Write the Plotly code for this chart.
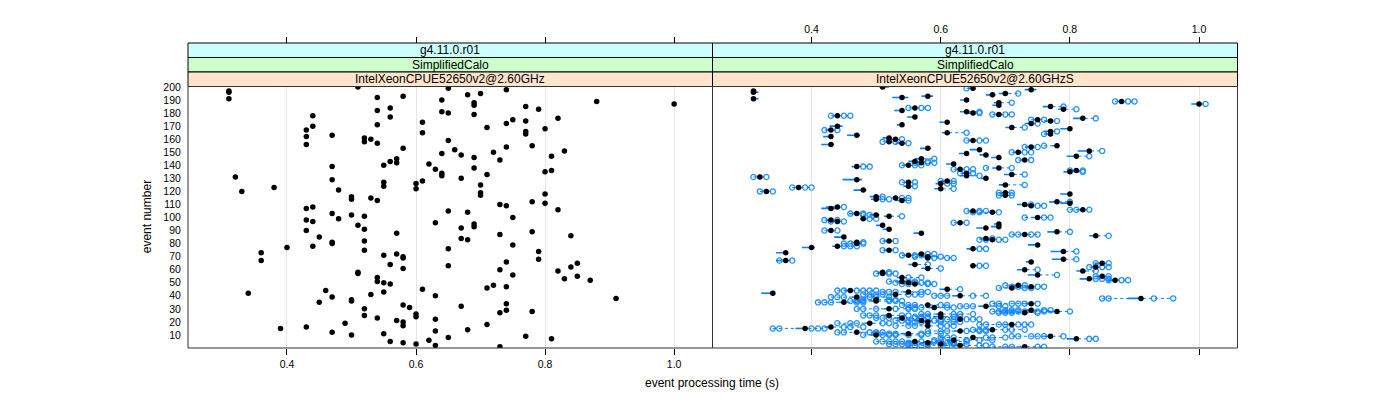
import plotly.graph_objects as go

# ---------------- data ----------------
event = list(range(1, 201))

# single-run processing time per event (left panel)
t_single = [
    0.73, 0.63, 0.60, 0.58, 0.56, 0.62, 0.81, 0.65, 0.77, 0.50,
    0.55, 0.47, 0.63, 0.68, 0.39, 0.43, 0.58, 0.71, 0.49, 0.58,
    0.57, 0.63, 0.54, 0.60, 0.52, 0.60, 0.73, 0.78, 0.74, 0.52,
    0.59, 0.67, 0.58, 0.74, 0.45, 0.50, 0.50, 0.91, 0.47, 0.63,
    0.53, 0.34, 0.55, 0.46, 0.61, 0.71, 0.74, 0.72, 0.56, 0.55,
    0.54, 0.87, 0.83, 0.54, 0.85, 0.75, 0.51, 0.51, 0.82, 0.73,
    0.58, 0.84, 0.65, 0.56, 0.85, 0.74, 0.36, 0.79, 0.58, 0.58,
    0.55, 0.57, 0.36, 0.79, 0.52, 0.65, 0.40, 0.44, 0.75, 0.47,
    0.47, 0.52, 0.68, 0.67, 0.45, 0.84, 0.73, 0.57, 0.78, 0.43,
    0.52, 0.67, 0.69, 0.51, 0.69, 0.63, 0.44, 0.43, 0.48, 0.75,
    0.52, 0.50, 0.47, 0.68, 0.65, 0.82, 0.43, 0.44, 0.74, 0.73,
    0.80, 0.78, 0.54, 0.50, 0.53, 0.50, 0.70, 0.80, 0.70, 0.33,
    0.48, 0.60, 0.38, 0.55, 0.70, 0.60, 0.55, 0.61, 0.47, 0.67,
    0.32, 0.64, 0.71, 0.64, 0.80, 0.81, 0.63, 0.69, 0.47, 0.55,
    0.62, 0.57, 0.56, 0.73, 0.57, 0.69, 0.81, 0.67, 0.64, 0.72,
    0.83, 0.66, 0.58, 0.74, 0.78, 0.43, 0.54, 0.52, 0.65, 0.53,
    0.52, 0.43, 0.47, 0.77, 0.61, 0.77, 0.43, 0.80, 0.71, 0.44,
    0.54, 0.74, 0.61, 0.77, 0.75, 0.82, 0.56, 0.44, 0.69, 0.65,
    0.64, 0.54, 0.79, 0.56, 0.77, 0.69, 1.00, 0.69, 0.88, 0.64,
    0.31, 0.54, 0.58, 0.68, 0.70, 0.31, 0.31, 0.74, 0.65, 0.51,
]

# summary (black dot) of repeated runs per event (right panel)
t_summary = list(t_single)

# individual repeated-run times per event (right panel, open circles)
rep_times = [
    [0.68, 0.70, 0.71, 0.75, 0.76],
    [0.55, 0.56, 0.57, 0.58, 0.60, 0.61, 0.66, 0.67],
    [0.52, 0.53, 0.54, 0.55, 0.58, 0.62, 0.64],
    [0.55, 0.56, 0.60, 0.61, 0.62],
    [0.50, 0.51, 0.52, 0.53, 0.54, 0.57, 0.59, 0.62, 0.64],
    [0.59, 0.60, 0.64, 0.66, 0.68],
    [0.83, 0.84],
    [0.60, 0.61, 0.62, 0.67, 0.68, 0.70],
    [0.71, 0.72, 0.74, 0.75, 0.76, 0.79],
    [0.48, 0.51, 0.52, 0.53, 0.55, 0.57],
    [0.50, 0.52, 0.53, 0.57, 0.58, 0.60],
    [0.44, 0.45, 0.49, 0.50, 0.51],
    [0.58, 0.60, 0.61, 0.64, 0.66, 0.67],
    [0.65, 0.66, 0.67, 0.70, 0.71, 0.73],
    [0.34, 0.35, 0.40, 0.41, 0.42],
    [0.45, 0.46, 0.48],
    [0.53, 0.55, 0.56, 0.60, 0.61, 0.62],
    [0.66, 0.67, 0.69, 0.70, 0.72, 0.73, 0.74],
    [0.44, 0.46, 0.47, 0.51, 0.52],
    [0.55, 0.56, 0.57, 0.60, 0.62, 0.63],
    [0.53, 0.54, 0.55, 0.59, 0.60],
    [0.60, 0.61, 0.62, 0.64, 0.65, 0.66],
    [0.50, 0.51, 0.52, 0.56, 0.57, 0.58],
    [0.56, 0.57, 0.58, 0.62, 0.63],
    [0.48, 0.49, 0.50, 0.54, 0.55],
    [0.57, 0.58, 0.62, 0.63, 0.65],
    [0.69, 0.70, 0.71, 0.75],
    [0.68, 0.69, 0.70, 0.71, 0.72, 0.73, 0.75, 0.76, 0.80],
    [0.70, 0.71, 0.72, 0.76, 0.77],
    [0.47, 0.48, 0.50, 0.53, 0.55, 0.56],
    [0.55, 0.56, 0.57, 0.61, 0.62],
    [0.63, 0.64, 0.65, 0.69, 0.70],
    [0.54, 0.55, 0.56, 0.60, 0.61],
    [0.68, 0.69, 0.71, 0.72, 0.73, 0.75],
    [0.41, 0.42, 0.43, 0.47, 0.48],
    [0.46, 0.47, 0.48, 0.52, 0.53, 0.54],
    [0.47, 0.48, 0.52, 0.53],
    [0.85, 0.86, 0.93, 0.96],
    [0.43, 0.44, 0.45, 0.49, 0.50, 0.52],
    [0.59, 0.60, 0.61, 0.65, 0.67],
    [0.48, 0.49, 0.50, 0.51, 0.55, 0.56, 0.57],
    [],
    [0.51, 0.52, 0.53, 0.57, 0.58],
    [0.44, 0.45, 0.47, 0.48, 0.49, 0.50],
    [0.63],
    [0.69, 0.73, 0.74],
    [0.71, 0.72, 0.75, 0.76],
    [0.70, 0.73],
    [0.54, 0.55, 0.58, 0.59],
    [0.53, 0.56, 0.57, 0.58],
    [0.52, 0.55, 0.56],
    [0.86, 0.88, 0.89],
    [0.84, 0.85, 0.86],
    [0.55, 0.57],
    [0.84, 0.86],
    [0.78],
    [0.50, 0.52, 0.53],
    [0.52],
    [0.84],
    [0.75],
    [0.60],
    [0.83, 0.85, 0.86],
    [0.66, 0.67],
    [0.58],
    [0.84, 0.86],
    [],
    [0.35, 0.37],
    [0.81],
    [0.59, 0.61, 0.62],
    [0.56, 0.60],
    [0.54, 0.56, 0.57],
    [0.58, 0.59],
    [],
    [0.81],
    [0.51, 0.53],
    [0.66, 0.67],
    [],
    [0.45, 0.46, 0.47],
    [],
    [0.45, 0.46, 0.48],
    [0.48],
    [0.51, 0.53],
    [0.66, 0.67, 0.69, 0.70],
    [0.68],
    [],
    [0.86],
    [0.71, 0.72, 0.74, 0.75],
    [],
    [0.80],
    [0.42, 0.44],
    [],
    [],
    [],
    [],
    [],
    [0.62, 0.64],
    [0.43, 0.45],
    [0.42, 0.44],
    [0.49, 0.50],
    [0.73, 0.76, 0.77],
    [0.54],
    [0.48, 0.49],
    [0.46, 0.48],
    [0.65, 0.66, 0.69],
    [0.64, 0.66, 0.67],
    [0.80, 0.81, 0.83],
    [],
    [0.45],
    [0.75, 0.76],
    [0.74],
    [],
    [0.80],
    [0.55],
    [0.51, 0.52],
    [0.54, 0.55],
    [0.51],
    [0.69, 0.71],
    [],
    [0.69, 0.71],
    [0.32, 0.34],
    [],
    [0.62],
    [0.37, 0.39, 0.40],
    [0.56],
    [0.73],
    [0.61, 0.62],
    [0.54, 0.56],
    [0.60, 0.62],
    [],
    [],
    [0.31, 0.33],
    [0.66],
    [0.73],
    [0.63, 0.65],
    [0.82],
    [0.80, 0.82],
    [0.62, 0.64, 0.65],
    [0.67, 0.71],
    [0.48, 0.49],
    [0.54, 0.56, 0.57],
    [],
    [0.56, 0.58, 0.59],
    [0.58],
    [0.72, 0.74],
    [0.59],
    [],
    [0.83],
    [],
    [],
    [0.71, 0.73, 0.74],
    [0.85],
    [],
    [],
    [0.73, 0.75],
    [0.76],
    [],
    [0.55],
    [0.51, 0.53],
    [0.64, 0.66, 0.67],
    [0.52, 0.54],
    [],
    [],
    [],
    [0.76],
    [0.64],
    [0.78],
    [0.42, 0.44],
    [],
    [0.73],
    [],
    [],
    [0.75],
    [],
    [0.78],
    [0.74, 0.76],
    [0.84],
    [],
    [0.43, 0.45, 0.46],
    [0.68, 0.70, 0.71],
    [0.66],
    [0.66],
    [],
    [0.81],
    [0.55, 0.57, 0.58],
    [0.79],
    [],
    [1.01],
    [0.71],
    [0.87, 0.89, 0.90],
    [],
    [],
    [],
    [],
    [],
    [0.72],
    [],
    [],
    [],
    [0.64],
    [],
]

# spread of repeated runs around the summary (ms), below / above
spread_lo_ms = [
    8, 10, 5, 12, 8, 10, 15, 5, 10, 8, 12, 5, 10, 8, 15, 10, 5, 12, 8, 10,
    10, 5, 8, 12, 10, 8, 5, 15, 10, 8, 10, 12, 5, 10, 8, 10, 5, 20, 8, 12,
    10, 18, 8, 10, 12, 5, 10, 8, 10, 5, 8, 12, 15, 8, 10, 15, 5, 8, 10, 12,
    10, 8, 5, 10, 12, 8, 15, 18, 5, 8, 10, 5, 15, 20, 8, 10, 15, 8, 15, 5,
    8, 10, 12, 10, 15, 10, 8, 12, 15, 8, 10, 15, 12, 10, 8, 5, 10, 8, 5, 10,
    8, 10, 12, 5, 8, 10, 15, 18, 10, 12, 15, 12, 10, 8, 5, 10, 8, 15, 8, 5,
    15, 10, 5, 8, 10, 8, 5, 10, 22, 8, 5, 10, 12, 8, 10, 8, 5, 10, 8, 10,
    12, 5, 10, 8, 10, 12, 15, 10, 12, 8, 18, 15, 12, 10, 8, 15, 10, 5, 8, 10,
    10, 12, 15, 10, 8, 10, 8, 15, 10, 12, 8, 10, 12, 10, 8, 15, 12, 8, 5, 10,
    10, 12, 8, 5, 12, 10, 12, 8, 5, 10, 3, 15, 10, 10, 10, 3, 3, 10, 8, 5,
]
spread_hi_ms = [
    3, 3, 5, 3, 3, 5, 3, 3, 3, 5, 3, 3, 3, 3, 5, 3, 3, 3, 5, 3,
    3, 3, 3, 5, 3, 3, 3, 3, 5, 3, 3, 3, 3, 3, 5, 3, 3, 3, 3, 3,
    5, 3, 3, 3, 3, 3, 3, 3, 5, 3, 3, 3, 3, 3, 3, 3, 3, 3, 5, 3,
    3, 3, 3, 5, 3, 3, 3, 3, 3, 3, 5, 3, 3, 3, 3, 3, 5, 3, 3, 3,
    3, 3, 3, 3, 3, 3, 5, 3, 3, 3, 3, 3, 3, 3, 3, 3, 3, 3, 3, 3,
    3, 5, 3, 3, 3, 3, 8, 3, 3, 3, 3, 3, 3, 3, 3, 3, 3, 3, 3, 3,
    5, 3, 3, 3, 3, 3, 3, 3, 8, 3, 3, 3, 3, 3, 3, 3, 3, 3, 3, 3,
    3, 3, 3, 3, 3, 3, 3, 3, 3, 3, 3, 3, 5, 3, 3, 5, 3, 3, 3, 3,
    3, 3, 5, 3, 3, 3, 3, 3, 3, 8, 3, 3, 3, 3, 3, 3, 3, 3, 3, 3,
    3, 3, 3, 3, 3, 3, 3, 3, 3, 3, 8, 10, 8, 5, 5, 8, 5, 8, 3, 10,
]

strip_levels = ["g4.11.0.r01", "SimplifiedCalo"]
panel_hosts = ["IntelXeonCPUE52650v2@2.60GHz", "IntelXeonCPUE52650v2@2.60GHzS"]
x_ticks = [0.4, 0.6, 0.8, 1.0]
x_tick_text = ["0.4", "0.6", "0.8", "1.0"]
y_ticks = list(range(10, 201, 10))

# ---------------- layout geometry ----------------
W, H = 1400, 400
def px(x):
    return x / W
def py(y):
    return 1 - y / H

L0, L1, R1 = 188, 712.5, 1237.5
TOP, BOT = 86.5, 348
S1, S2, S3 = 72, 57.5, 43
XR = [0.2466, 1.0595]
YR = [0, 200.4]

BLUE = "#0080ff"
FONT = "Liberation Sans, Arial, sans-serif"

fig = go.Figure()

# left panel: single run
fig.add_trace(go.Scatter(
    x=t_single, y=event, mode="markers", xaxis="x", yaxis="y",
    marker=dict(color="black", size=5.5), showlegend=False, hoverinfo="skip"))

# right panel: spread lines
solid_x, solid_y, dot_x, dot_y = [], [], [], []
circ_x, circ_y = [], []
for e, m, reps, lo_ms, hi_ms in zip(event, t_summary, rep_times, spread_lo_ms, spread_hi_ms):
    lo = m - lo_ms / 1000.0
    hi = m + hi_ms / 1000.0
    solid_x += [lo, hi, None]
    solid_y += [e, e, None]
    allv = reps + [lo, hi]
    mn, mx = min(allv), max(allv)
    if mn < lo:
        dot_x += [mn, lo, None]
        dot_y += [e, e, None]
    if mx > hi:
        dot_x += [hi, mx, None]
        dot_y += [e, e, None]
    for r in reps:
        circ_x.append(r)
        circ_y.append(e)

fig.add_trace(go.Scatter(
    x=dot_x, y=dot_y, mode="lines", xaxis="x2", yaxis="y2",
    line=dict(color=BLUE, width=1, dash="dot"), showlegend=False, hoverinfo="skip"))
fig.add_trace(go.Scatter(
    x=solid_x, y=solid_y, mode="lines", xaxis="x2", yaxis="y2",
    line=dict(color=BLUE, width=1.6), showlegend=False, hoverinfo="skip"))
fig.add_trace(go.Scatter(
    x=circ_x, y=circ_y, mode="markers", xaxis="x2", yaxis="y2",
    marker=dict(symbol="circle-open", color=BLUE, size=5.2, line=dict(width=1.3, color=BLUE)),
    opacity=0.85, showlegend=False, hoverinfo="skip"))
fig.add_trace(go.Scatter(
    x=t_summary, y=event, mode="markers", xaxis="x2", yaxis="y2",
    marker=dict(color="black", size=5.5), showlegend=False, hoverinfo="skip"))

# empty traces so the top tick axes get drawn
fig.add_trace(go.Scatter(x=[], y=[], xaxis="x3", yaxis="y3", showlegend=False, hoverinfo="skip"))
fig.add_trace(go.Scatter(x=[], y=[], xaxis="x4", yaxis="y4", showlegend=False, hoverinfo="skip"))

tickfont = dict(family=FONT, size=10.5, color="black")
common_x = dict(range=XR, tickvals=x_ticks, ticktext=x_tick_text, automargin=False,
                ticks="outside", ticklen=6, tickcolor="black", tickwidth=1,
                showline=False, zeroline=False, tickfont=tickfont, fixedrange=True)
hidden_y = dict(domain=[py(BOT), py(TOP)], range=YR, visible=False, fixedrange=True,
                automargin=False)

fig.update_layout(
    template="none",
    width=W, height=H, margin=dict(l=0, r=0, t=0, b=0, pad=0, autoexpand=False),
    paper_bgcolor="white", plot_bgcolor="rgba(0,0,0,0)",
    xaxis=dict(domain=[px(L0), px(L1)], anchor="y", showgrid=True, gridcolor="#e6e6e6",
               gridwidth=1, **common_x),
    xaxis2=dict(domain=[px(L1), px(R1)], anchor="y2", showgrid=True, gridcolor="#e6e6e6",
                gridwidth=1, showticklabels=False, **common_x),
    xaxis3=dict(domain=[px(L1), px(R1)], anchor="free", position=py(S3), side="top",
                showgrid=False, **common_x),
    xaxis4=dict(domain=[px(L0), px(L1)], anchor="free", position=py(S3), side="top",
                showgrid=False, showticklabels=False, **common_x),
    yaxis=dict(domain=[py(BOT), py(TOP)], anchor="x", range=YR, tickvals=y_ticks,
               ticks="outside", ticklen=4, tickcolor="rgba(0,0,0,0)", automargin=False,
               showgrid=False, zeroline=False, showline=False, tickfont=tickfont,
               fixedrange=True),
    yaxis2=dict(domain=[py(BOT), py(TOP)], anchor="x2", range=YR, tickvals=y_ticks,
                showticklabels=False, ticks="", showgrid=False, zeroline=False,
                showline=False, fixedrange=True, automargin=False),
    yaxis3=dict(anchor="x3", **hidden_y),
    yaxis4=dict(anchor="x4", **hidden_y),
)

shapes = []
# panel frames
for a, b in [(L0, L1), (L1, R1)]:
    shapes.append(dict(type="rect", xref="paper", yref="paper",
                       x0=px(a), x1=px(b), y0=py(BOT), y1=py(TOP),
                       line=dict(color="#333333", width=1), fillcolor="rgba(0,0,0,0)", layer="above"))
# strips
strip_cols = [("#ccffff", S3, S2), ("#ccffcc", S2, S1), ("#ffe5cc", S1, TOP)]
annotations = []
for pi, (a, b) in enumerate([(L0, L1), (L1, R1)]):
    labels = strip_levels + [panel_hosts[pi]]
    for (col, ya, yb), lab in zip(strip_cols, labels):
        shapes.append(dict(type="rect", xref="paper", yref="paper",
                           x0=px(a), x1=px(b), y0=py(yb), y1=py(ya),
                           line=dict(color="black", width=1), fillcolor=col, layer="below"))
        annotations.append(dict(xref="paper", yref="paper", x=px((a + b) / 2), y=py((ya + yb) / 2),
                                text=lab, showarrow=False, xanchor="center", yanchor="middle",
                                font=dict(family=FONT, size=12, color="black")))

annotations.append(dict(xref="paper", yref="paper", x=px(712), y=py(383),
                        text="event processing time (s)", showarrow=False,
                        xanchor="center", yanchor="middle",
                        font=dict(family=FONT, size=12, color="black")))
annotations.append(dict(xref="paper", yref="paper", x=px(147), y=py((TOP + BOT) / 2),
                        text="event number", showarrow=False, textangle=-90,
                        xanchor="center", yanchor="middle",
                        font=dict(family=FONT, size=12, color="black")))

fig.update_layout(shapes=shapes, annotations=annotations)
fig.write_html("out.html", config={"displayModeBar": False},
               post_script="document.body.style.margin='0';document.body.style.padding='0';"
                           "document.documentElement.style.overflow='hidden';")
